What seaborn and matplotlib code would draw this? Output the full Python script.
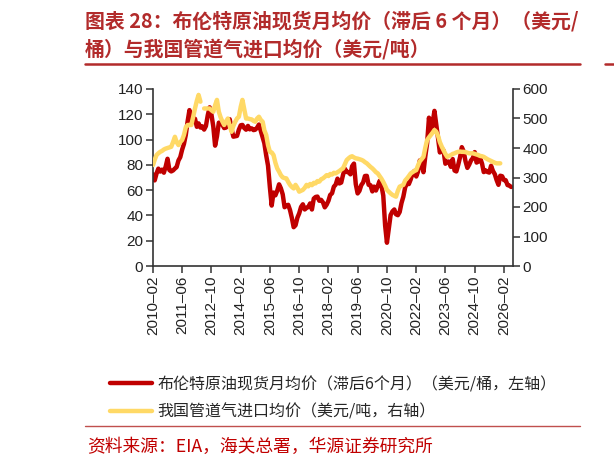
import matplotlib
matplotlib.use("Agg")
import matplotlib.pyplot as plt
import matplotlib.lines as mlines
import pandas as pd
import seaborn as sns

# 布伦特原油现货月均价（滞后6个月），美元/桶，2010-02 ~ 2026-06
brent_months = pd.date_range("2010-02-01", periods=197, freq="MS")
brent = [72.5, 67.7, 73.2, 77.0, 74.7,
         76.2, 73.8, 78.8, 84.8, 75.9, 74.8, 75.6, 77.1, 78.2, 83.5, 86.1, 92.0,
         96.5, 103.7, 114.6, 123.3, 114.5, 113.9, 116.5, 110.1, 112.8, 109.5, 110.5, 107.9,
         110.7, 119.3, 125.5, 119.8, 110.3, 95.2, 102.6, 113.4, 113.0, 111.7, 109.1, 109.5,
         112.3, 116.1, 108.5, 102.3, 102.6, 102.9, 107.9, 111.3, 111.6, 109.1, 107.8, 110.8,
         108.1, 108.9, 107.5, 107.8, 109.5, 111.9, 106.8, 101.6, 97.1, 87.4, 79.4, 62.3,
         47.8, 58.1, 55.9, 59.5, 64.6, 61.5, 56.6, 46.5, 47.6, 48.4, 44.3, 38.0,
         30.7, 32.2, 38.2, 41.6, 46.7, 48.8, 44.7, 46.0, 46.6, 49.5, 44.7, 53.3,
         54.6, 54.9, 51.6, 52.3, 50.3, 46.4, 48.5, 51.7, 56.2, 57.5, 62.7, 64.4,
         69.1, 65.3, 66.0, 72.1, 76.9, 74.4, 74.3, 72.5, 78.9, 81.0, 64.8, 57.4,
         59.4, 64.0, 66.1, 71.2, 71.3, 64.2, 63.9, 59.0, 62.8, 59.7, 63.2, 67.3,
         63.7, 55.7, 32.0, 18.4, 29.4, 40.3, 43.2, 44.7, 40.9, 40.2, 42.7, 49.9,
         54.8, 62.3, 65.4, 64.8, 68.5, 73.2, 75.2, 70.8, 74.5, 83.5, 81.1, 74.2,
         86.5, 97.1, 117.3, 104.6, 113.3, 122.7, 111.9, 100.5, 89.8, 93.3, 91.4, 80.9,
         82.5, 82.6, 78.4, 84.6, 75.5, 74.8, 80.1, 86.2, 94.0, 90.6, 82.9, 77.6,
         80.1, 83.5, 85.4, 90.1, 81.8, 82.6, 85.3, 80.9, 74.3, 75.6, 74.4, 73.9,
         79.3, 75.2, 72.6, 68.0, 64.2, 71.4, 71.0, 67.9, 67.9, 64.0, 63.6, 62.5]

# 我国管道气进口均价，美元/吨，2010-02 ~ 2025-12（2012-05 缺值）
gas_months = pd.date_range("2010-02-01", periods=191, freq="MS")
nan = float("nan")
gas = [342, 360, 376, 382, 387, 390, 395, 398, 400, 402, 404, 420,
       438, 420, 410, 420, 427, 444, 470, 478, 478, 478, 505, 534,
       560, 580, 557, nan, 534, 534, 534, 534, 528, 523, 545, 563,
       523, 505, 490, 478, 490, 500, 475, 455, 475, 489, 500, 506,
       540, 563, 530, 500, 500, 498, 497, 492, 489, 500, 506, 495,
       489, 460, 444, 410, 387, 385, 376, 350, 331, 320, 308, 300,
       298, 297, 285, 275, 268, 263, 275, 265, 252, 255, 258, 265,
       275, 270, 278, 274, 282, 280, 288, 286, 294, 297, 302, 308,
       305, 312, 310, 316, 314, 318, 322, 327, 331, 345, 359, 365,
       370, 372, 368, 365, 364, 362, 360, 357, 352, 348, 342, 336,
       331, 325, 318, 314, 305, 296, 285, 272, 258, 252, 246, 241,
       238, 235, 255, 269, 272, 275, 290, 297, 305, 314, 318, 322,
       325, 340, 355, 362, 370, 400, 427, 436, 444, 452, 461, 455,
       440, 420, 405, 393, 380, 370, 373, 376, 380, 382, 385, 387,
       388, 387, 387, 386, 384, 382, 382, 382, 380, 378, 376, 373,
       372, 370, 366, 362, 359, 356, 353, 350, 348, 348, 348]

tick_dates = pd.date_range("2010-02-01", "2026-02-01", freq="16MS")
tick_labels = ["2010–02", "2011–06", "2012–10", "2014–02", "2015–06", "2016–10",
               "2018–02", "2019–06", "2020–10", "2022–02", "2023–06", "2024–10",
               "2026–02"]
left_ticks = [0, 20, 40, 60, 80, 100, 120, 140]
right_ticks = [0, 100, 200, 300, 400, 500, 600]

label_brent = "布伦特原油现货月均价（滞后6个月）（美元/桶，左轴）"
label_gas = "我国管道气进口均价（美元/吨，右轴）"

RED = "#C00000"
GOLD = "#FFD966"
TITLE_RED = "#B22B2B"
AXIS = "#333333"
CJK = ["Noto Sans CJK SC", "DejaVu Sans"]

sns.set_style("ticks")
plt.rcParams["font.family"] = ["Liberation Sans", "Noto Sans CJK SC", "DejaVu Sans"]

fig = plt.figure(figsize=(6.14, 4.68), dpi=100)
ax = fig.add_axes([153 / 614, 1 - 266 / 468, 360 / 614, 177 / 468])
ax2 = ax.twinx()

df_b = pd.DataFrame({"月份": brent_months, "价格": brent})
df_g = pd.DataFrame({"月份": gas_months, "价格": gas})
df_g["段"] = df_g["价格"].isna().cumsum()
df_g = df_g.dropna()

sns.lineplot(data=df_b, x="月份", y="价格", ax=ax, color=RED, linewidth=3.2,
             label=label_brent)
sns.lineplot(data=df_g, x="月份", y="价格", units="段", estimator=None, ax=ax2,
             color=GOLD, linewidth=3.2, label=label_gas)

h1, l1 = ax.get_legend_handles_labels()
h2, l2 = ax2.get_legend_handles_labels()
ax.get_legend().remove()
ax2.get_legend().remove()

ax.set_xlim(pd.Timestamp("2010-02-01"), pd.Timestamp("2026-07-01"))
ax.set_ylim(0, 140)
ax2.set_ylim(0, 600)
ax.set_xticks(tick_dates)
ax.set_xticklabels(tick_labels, rotation=90)
ax.set_yticks(left_ticks)
ax2.set_yticks(right_ticks)
ax.set_xlabel("")
ax.set_ylabel("")
ax2.set_ylabel("")

for a in (ax, ax2):
    a.spines["top"].set_visible(False)
    for s in a.spines.values():
        s.set_color(AXIS)
        s.set_linewidth(1.2)
    a.tick_params(colors=AXIS, labelcolor="#222222", labelsize=11, length=5, width=1.1, pad=2)
ax.spines["right"].set_visible(False)
ax2.spines["left"].set_visible(False)
ax2.spines["bottom"].set_visible(False)

# 标题
fig.text(85 / 614, 1 - 21 / 468, "图表 28：布伦特原油现货月均价（滞后 6 个月）（美元/",
         fontsize=14.3, fontweight="bold", color=TITLE_RED, family=CJK, va="center")
fig.text(85 / 614, 1 - 49 / 468, "桶）与我国管道气进口均价（美元/吨）",
         fontsize=14.3, fontweight="bold", color=TITLE_RED, family=CJK, va="center")
fig.add_artist(mlines.Line2D([85 / 614, 580 / 614], [1 - 64 / 468] * 2,
                             transform=fig.transFigure, color=TITLE_RED, linewidth=1.8))
# 右侧相邻版面的标题线残段
fig.add_artist(mlines.Line2D([605 / 614, 1.0], [1 - 64 / 468] * 2,
                             transform=fig.transFigure, color=TITLE_RED, linewidth=1.8))

# 图例
fig.legend([h1[0], h2[0]], [l1[0], l2[0]], loc="upper left",
           bbox_to_anchor=(110 / 614, 1 - 376 / 468),
           frameon=False, borderpad=0, borderaxespad=0, handlelength=2.6,
           handletextpad=0.35, labelspacing=0.68, prop={"family": CJK, "size": 11.5})

fig.add_artist(mlines.Line2D([85 / 614, 580 / 614], [1 - 426 / 468] * 2,
                             transform=fig.transFigure, color="#C0504D", linewidth=1.0))

fig.text(87 / 614, 1 - 447 / 468, "资料来源：EIA，海关总署，华源证券研究所",
         fontsize=12.8, color=RED, family=CJK, va="center")

fig.savefig("out.png", dpi=100, facecolor="white")
